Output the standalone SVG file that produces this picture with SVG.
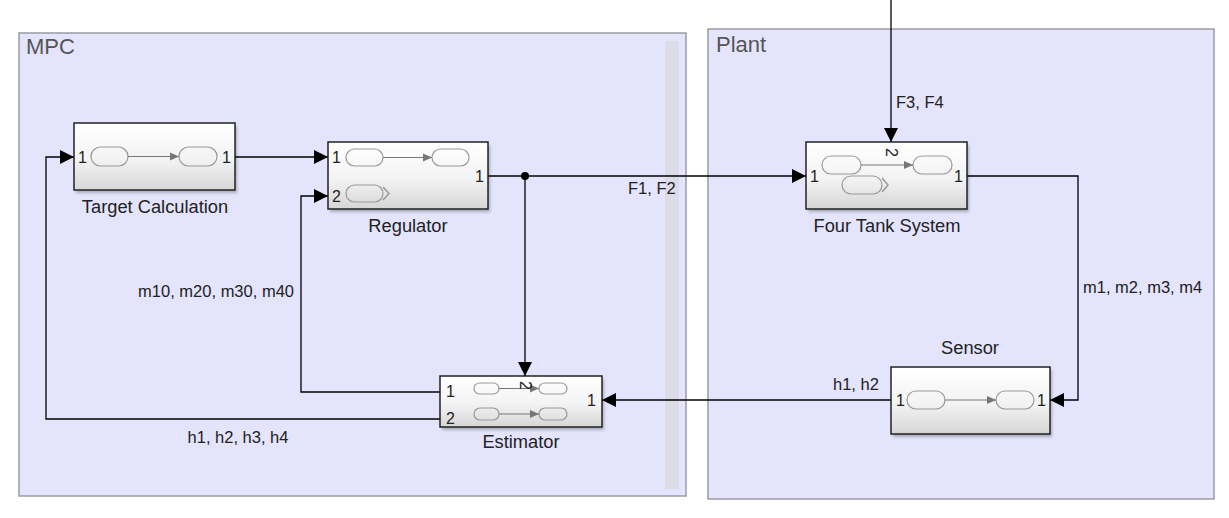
<svg xmlns="http://www.w3.org/2000/svg" width="1229" height="518" viewBox="0 0 1229 518">
<style>
.area{fill:#e4e4fc;stroke:#9a9aa4;stroke-width:1.5}
.areat{font-family:"Liberation Sans",Arial,sans-serif;font-size:22px;fill:#555}
.blk{fill:url(#bg);stroke:#222;stroke-width:1.5}
.shd{fill:#000;opacity:0.25;filter:url(#blur)}
.lbl{font-family:"Liberation Sans",Arial,sans-serif;font-size:18.3px;fill:#222;text-anchor:middle}
.sig{font-family:"Liberation Sans",Arial,sans-serif;font-size:16.5px;fill:#222}
.prt{font-family:"Liberation Sans",Arial,sans-serif;font-size:16px;fill:#222}
.pill{fill:none;stroke:#999;stroke-width:1.2}
.ia{stroke:#777;stroke-width:1.2;fill:none}
.chev{stroke:#999;stroke-width:1.5;fill:none}
.w{stroke:#000;stroke-width:1.3;fill:none}
</style>
<defs>
<linearGradient id="bg" x1="0" y1="0" x2="0" y2="1">
<stop offset="0" stop-color="#ffffff"/>
<stop offset="0.55" stop-color="#f3f3f3"/>
<stop offset="1" stop-color="#d6d6d6"/>
</linearGradient>
<filter id="blur" x="-10%" y="-10%" width="120%" height="130%"><feGaussianBlur stdDeviation="1.5"/></filter>
<marker id="ah" markerWidth="15" markerHeight="15" refX="14" refY="7" orient="auto" markerUnits="userSpaceOnUse">
<path d="M0,0 L14,7 L0,14 Z" fill="#000"/>
</marker>
<marker id="gh" markerWidth="10" markerHeight="10" refX="9" refY="5" orient="auto" markerUnits="userSpaceOnUse">
<path d="M0,1 L9,5 L0,9 Z" fill="#777"/>
</marker>
</defs>
<rect width="1229" height="518" fill="#fff"/>

<g id="area-mpc">
<rect class="area" x="19" y="33" width="667" height="463"/>
<rect x="665" y="41" width="14" height="448" fill="#dddbe6"/>
<text class="areat" x="26" y="54">MPC</text>
</g>
<g id="area-plant">
<rect class="area" x="708" y="29" width="506" height="470"/>
<text class="areat" x="716" y="52">Plant</text>
</g>

<g id="connectors">
<path class="w" d="M235,157 H328" marker-end="url(#ah)"/>
<path class="w" d="M488,176 H806" marker-end="url(#ah)"/>
<path class="w" d="M525,176 V376" marker-end="url(#ah)"/>
<circle cx="525" cy="176" r="4" fill="#000"/>
<path class="w" d="M891,0 V142" marker-end="url(#ah)"/>
<path class="w" d="M967,176 H1078 V400 H1050" marker-end="url(#ah)"/>
<path class="w" d="M891,400 H602" marker-end="url(#ah)"/>
<path class="w" d="M440,392 H301 V196 H328" marker-end="url(#ah)"/>
<path class="w" d="M440,419 H46 V157 H74" marker-end="url(#ah)"/>
<text class="sig" x="628" y="194">F1, F2</text>
<text class="sig" x="896" y="108">F3, F4</text>
<text class="sig" x="1083" y="293">m1, m2, m3, m4</text>
<text class="sig" x="833" y="390">h1, h2</text>
<text class="sig" x="294" y="297" text-anchor="end">m10, m20, m30, m40</text>
<text class="sig" x="238" y="443" text-anchor="middle">h1, h2, h3, h4</text>
</g>

<g id="target-calculation">
<rect class="shd" x="76" y="126" width="161" height="67"/>
<rect class="blk" x="74" y="123" width="161" height="67"/>
<rect class="pill" x="91" y="147" width="37" height="19" rx="9.5"/>
<rect class="pill" x="179" y="147" width="38" height="19" rx="9.5"/>
<path class="ia" d="M128,156.5 H179" marker-end="url(#gh)"/>
<text class="prt" x="78" y="163">1</text>
<text class="prt" x="231" y="163" text-anchor="end">1</text>
<text class="lbl" x="155" y="213">Target Calculation</text>
</g>

<g id="regulator">
<rect class="shd" x="330" y="145" width="160" height="67"/>
<rect class="blk" x="328" y="142" width="160" height="67"/>
<rect class="pill" x="346" y="149" width="37" height="17" rx="8.5"/>
<rect class="pill" x="432" y="149" width="37" height="17" rx="8.5"/>
<path class="ia" d="M383,157.5 H432" marker-end="url(#gh)"/>
<rect class="pill" x="346" y="185" width="37" height="17" rx="8.5"/>
<path class="chev" d="M383,187 L389,193.5 L383,200"/>
<text class="prt" x="332" y="163">1</text>
<text class="prt" x="332" y="202">2</text>
<text class="prt" x="484" y="182" text-anchor="end">1</text>
<text class="lbl" x="408" y="232">Regulator</text>
</g>

<g id="four-tank-system">
<rect class="shd" x="808" y="145" width="161" height="67"/>
<rect class="blk" x="806" y="142" width="161" height="67"/>
<rect class="pill" x="822" y="156" width="39" height="18" rx="9"/>
<rect class="pill" x="913" y="156" width="39" height="18" rx="9"/>
<path class="ia" d="M861,165 H913" marker-end="url(#gh)"/>
<rect class="pill" x="842" y="176" width="40" height="18" rx="9"/>
<path class="chev" d="M882,178 L888,185 L882,192"/>
<text class="prt" x="0" y="0" transform="translate(886,148) rotate(90)">2</text>
<text class="prt" x="810" y="182">1</text>
<text class="prt" x="963" y="182" text-anchor="end">1</text>
<text class="lbl" x="887" y="232">Four Tank System</text>
</g>

<g id="estimator">
<rect class="shd" x="442" y="379" width="162" height="51"/>
<rect class="blk" x="440" y="376" width="162" height="51"/>
<rect class="pill" x="474" y="383" width="25" height="11" rx="5.5"/>
<rect class="pill" x="539" y="383" width="28" height="11" rx="5.5"/>
<path class="ia" d="M499,388.5 H539" marker-end="url(#gh)"/>
<rect class="pill" x="474" y="408" width="25" height="12" rx="6"/>
<rect class="pill" x="539" y="408" width="28" height="12" rx="6"/>
<path class="ia" d="M499,414 H539" marker-end="url(#gh)"/>
<text class="prt" x="0" y="0" transform="translate(520,381) rotate(90)">2</text>
<text class="prt" x="446" y="397">1</text>
<text class="prt" x="446" y="424">2</text>
<text class="prt" x="596" y="406" text-anchor="end">1</text>
<text class="lbl" x="521" y="448">Estimator</text>
</g>

<g id="sensor">
<rect class="shd" x="893" y="370" width="159" height="67"/>
<rect class="blk" x="891" y="367" width="159" height="67"/>
<rect class="pill" x="907" y="391" width="38" height="18" rx="9"/>
<rect class="pill" x="996" y="391" width="38" height="18" rx="9"/>
<path class="ia" d="M945,400 H996" marker-end="url(#gh)"/>
<text class="prt" x="896" y="406">1</text>
<text class="prt" x="1046" y="406" text-anchor="end">1</text>
<text class="lbl" x="970" y="354">Sensor</text>
</g>
</svg>
